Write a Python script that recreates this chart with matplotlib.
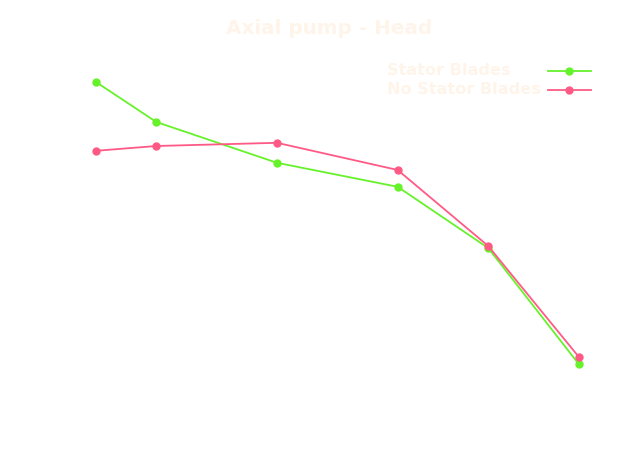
import matplotlib
matplotlib.use("Agg")
import matplotlib.pyplot as plt
from matplotlib.lines import Line2D

# flow points and head values
flow = [1, 2, 4, 6, 7.5, 9]
stator = [8.45, 7.45, 6.43, 5.83, 4.3, 1.4]
no_stator = [6.73, 6.85, 6.93, 6.25, 4.35, 1.58]
labels = ["Stator Blades", "No Stator Blades"]
colors = ["#66f22a", "#ff5a86"]

txt = "#fff4ea"
W, H = 631, 472

fig = plt.figure(figsize=(6.31, 4.72), dpi=100)
ax = fig.add_axes([71.85 / W, 94 / H, 531 / W, 310 / H])
ax.plot(flow, stator, color=colors[0], marker="o", markersize=5, linewidth=1.3)
ax.plot(flow, no_stator, color=colors[1], marker="o", markersize=5, linewidth=1.3)
ax.set_xlim(1 - 0.4, 9 + 0.4)
ax.set_ylim(1.4 - 0.35, 8.45 + 0.35)
ax.axis("off")

fig.text(329 / W, 1 - 28 / H, "Axial pump - Head", ha="center", va="center",
         fontsize=14.4, fontweight="bold", color=txt, family="DejaVu Sans")

# legend: labels left, line+marker on the right
for i, (lab, c) in enumerate(zip(labels, colors)):
    yy = 1 - (71 + 19 * i) / H
    fig.text(387 / W, yy, lab, ha="left", va="center", fontsize=11.6,
             fontweight="bold", color=txt, family="DejaVu Sans")
    fig.add_artist(Line2D([548 / W, 591 / W], [yy, yy], color=c, linewidth=1.3,
                          transform=fig.transFigure))
    fig.add_artist(Line2D([569 / W], [yy], color=c, marker="o", markersize=5,
                          transform=fig.transFigure))

fig.savefig("out.png", dpi=100, facecolor="white")
